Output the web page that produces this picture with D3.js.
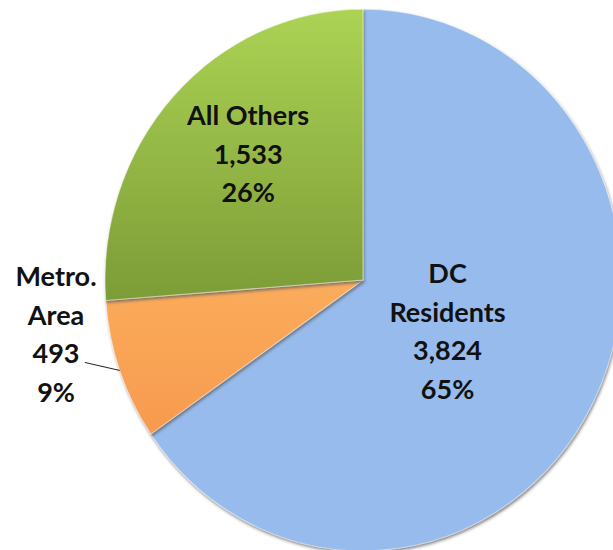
<!DOCTYPE html>
<html>
<head>
<meta charset="utf-8">
<script src="https://cdn.jsdelivr.net/npm/d3@7"></script>
<style>
  body { margin: 0; background: #fff; }
  svg text { font-family: Lato, "Open Sans", sans-serif; font-weight: bold; fill: #111; }
</style>
</head>
<body>
<div id="chart"></div>
<script>
// Data
let categories = ["DC Residents", "Metro. Area", "All Others"];
let labelLines = [["DC", "Residents"], ["Metro.", "Area"], ["All Others"]];
let counts = [3824, 493, 1533];
let percents = ["65%", "9%", "26%"];

let width = 613, height = 550;
let cx = 363, cy = 280, radius = 258, squash = 1.05;

let svg = d3.select("#chart").append("svg")
    .attr("width", width)
    .attr("height", height);

let defs = svg.append("defs");

// green slice is lighter at the top
let grad = defs.append("linearGradient")
    .attr("id", "greenGrad")
    .attr("x1", 0).attr("y1", 0).attr("x2", 0).attr("y2", 1);
grad.append("stop").attr("offset", "0%").attr("stop-color", "#acd354");
grad.append("stop").attr("offset", "100%").attr("stop-color", "#7c9c37");

let orangeGrad = defs.append("linearGradient")
    .attr("id", "orangeGrad")
    .attr("x1", 0).attr("y1", 0).attr("x2", 0).attr("y2", 1);
orangeGrad.append("stop").attr("offset", "0%").attr("stop-color", "#fbac5c");
orangeGrad.append("stop").attr("offset", "100%").attr("stop-color", "#f79a4e");

let shadow = defs.append("filter").attr("id", "shadow")
    .attr("x", "-10%").attr("y", "-10%").attr("width", "130%").attr("height", "130%");
shadow.append("feDropShadow")
    .attr("dx", 1).attr("dy", 2).attr("stdDeviation", 1.5)
    .attr("flood-color", "#555").attr("flood-opacity", 0.7);

let fills = ["#97bbec", "url(#orangeGrad)", "url(#greenGrad)"];

let pie = d3.pie().sort(null).value(d => d)(counts);

let arc = d3.arc().innerRadius(0).outerRadius(radius);

// the chart is a little taller than wide
let g = svg.append("g")
    .attr("transform", "translate(" + cx + "," + cy + ") scale(1," + squash + ")");

g.selectAll(".slice")
    .data(pie)
    .enter().append("path")
    .attr("class", "slice")
    .attr("d", arc)
    .attr("fill", (d, i) => fills[i])
    .attr("stroke", "#fff")
    .attr("stroke-opacity", 0.5)
    .attr("stroke-width", 1)
    .attr("filter", "url(#shadow)");

// label placement (fraction of radius along the mid angle, plus nudges)
let labelR = [0.37, 1.18, 0.66];
let nudge = [[0, 5], [-20, -52], [10, -4]];
let lineH = 38.5;

pie.forEach((d, i) => {
    let a = (d.startAngle + d.endAngle) / 2;
    let x = Math.sin(a) * radius * labelR[i] + nudge[i][0];
    let y = -Math.cos(a) * radius * labelR[i] * squash + nudge[i][1];
    let lines = labelLines[i].concat([d3.format(",")(counts[i]), percents[i]]);
    let t = svg.append("text")
        .attr("text-anchor", "middle")
        .attr("font-size", 27)
        .attr("x", cx + x)
        .attr("y", cy + y - (lines.length - 1) * lineH / 2);
    lines.forEach((s, j) => {
        t.append("tspan")
            .attr("x", cx + x)
            .attr("dy", j === 0 ? "0.35em" : lineH)
            .text(s);
    });
});

// leader line for the small slice
let metro = pie[1];
let ma = (metro.startAngle + metro.endAngle) / 2;
let edge = [cx + Math.sin(ma) * radius, cy - Math.cos(ma) * radius * squash];
svg.append("path")
    .attr("d", "M" + (edge[0] - 35) + "," + (edge[1] - 8) + "L" + edge[0] + "," + edge[1])
    .attr("stroke", "#222")
    .attr("stroke-width", 1)
    .attr("fill", "none");
</script>
</body>
</html>
